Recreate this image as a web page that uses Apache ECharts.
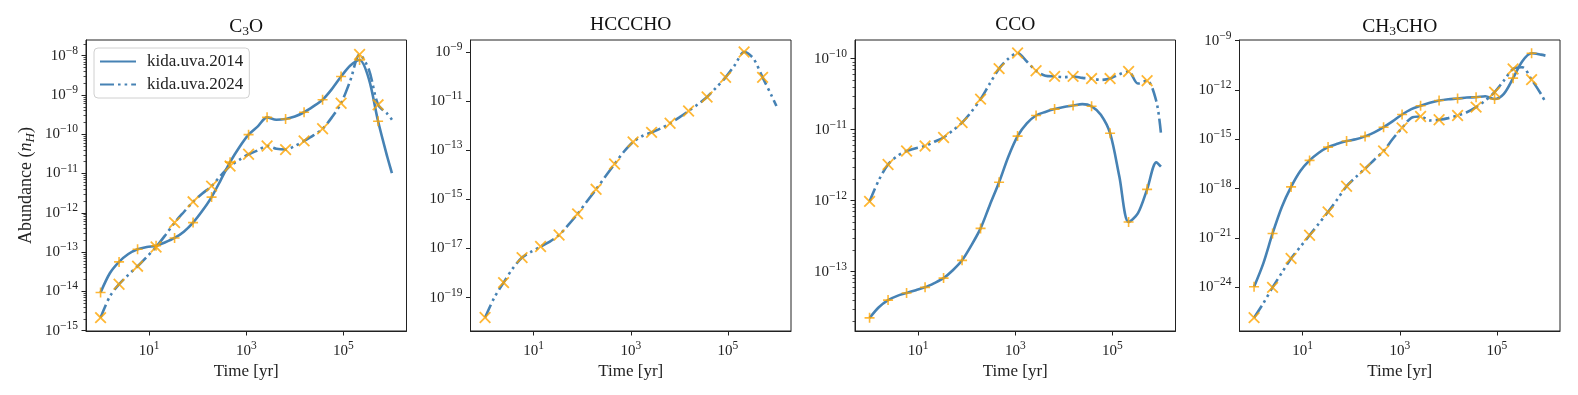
<!DOCTYPE html>
<html>
<head>
<meta charset="utf-8">
<script src="https://cdn.jsdelivr.net/npm/echarts@6/dist/echarts.min.js"></script>
<style>
html, body { margin: 0; padding: 0; background: #fff; }
#mybox { width: 1578px; height: 395px; }
</style>
</head>
<body>
<div id="mybox"></div>
<script>
// model time grid [yr], markers sit on every other point (up to index 30)
var timeYr = [1, 1.551, 2.404, 3.729, 5.781, 8.966, 13.90, 21.56, 33.42, 51.83, 80.35,
    124.6, 193.2, 299.6, 464.5, 720.3, 1117, 1732, 2685, 4164, 6457, 10010, 15520,
    24070, 37330, 57880, 89740, 139200, 215800, 334600, 518800, 804500, 1000000];

// log10 abundance (n_H), one value per time point
var c3o2014 = [-14.03, -13.54, -13.25, -13.05, -12.93, -12.87, -12.84, -12.75, -12.64, -12.48, -12.25,
    -11.95, -11.60, -11.16, -10.71, -10.33, -10.01, -9.80, -9.57, -9.63, -9.61, -9.55, -9.44,
    -9.29, -9.12, -8.85, -8.53, -8.25, -8.11, -8.59, -9.67, -10.58, -10.99];
var c3o2024 = [-14.67, -14.13, -13.82, -13.58, -13.36, -13.12, -12.87, -12.57, -12.25, -11.98, -11.72,
    -11.51, -11.32, -11.05, -10.81, -10.65, -10.51, -10.41, -10.30, -10.37, -10.39, -10.30, -10.17,
    -10.03, -9.86, -9.57, -9.21, -8.63, -7.97, -8.35, -9.25, -9.48, -9.63];
var hcccho2024 = [-19.81, -19.00, -18.39, -17.81, -17.37, -17.13, -16.92, -16.72, -16.45, -16.04, -15.59,
    -15.09, -14.59, -14.07, -13.56, -13.06, -12.66, -12.42, -12.27, -12.11, -11.90, -11.66, -11.40,
    -11.13, -10.83, -10.44, -10.03, -9.53, -9.00, -9.26, -10.03, -10.80, -11.20];
var cco2014 = [-13.65, -13.50, -13.40, -13.34, -13.30, -13.26, -13.22, -13.16, -13.09, -12.98, -12.84,
    -12.63, -12.39, -12.06, -11.74, -11.38, -11.09, -10.91, -10.80, -10.75, -10.71, -10.68, -10.66,
    -10.64, -10.67, -10.79, -11.05, -11.66, -12.30, -12.18, -11.84, -11.46, -11.52];
var cco2024 = [-12.01, -11.71, -11.49, -11.37, -11.30, -11.26, -11.23, -11.17, -11.11, -11.01, -10.90,
    -10.75, -10.57, -10.35, -10.14, -10.00, -9.92, -10.04, -10.17, -10.24, -10.25, -10.26, -10.25,
    -10.27, -10.28, -10.30, -10.28, -10.22, -10.18, -10.35, -10.31, -10.60, -11.05];
var ch3cho2014 = [-23.96, -22.54, -20.72, -19.11, -17.89, -16.92, -16.28, -15.81, -15.47, -15.27, -15.10,
    -15.00, -14.82, -14.58, -14.26, -13.89, -13.49, -13.16, -12.96, -12.78, -12.64, -12.56, -12.52,
    -12.46, -12.44, -12.38, -12.55, -12.23, -11.28, -10.25, -9.77, -9.85, -9.91];
var ch3cho2024 = [-25.84, -24.97, -24.00, -23.11, -22.24, -21.53, -20.83, -20.12, -19.41, -18.64, -17.85,
    -17.29, -16.78, -16.24, -15.71, -14.96, -14.30, -13.69, -13.61, -13.85, -13.81, -13.71, -13.55,
    -13.35, -13.04, -12.64, -12.13, -11.43, -10.72, -10.62, -11.37, -12.23, -12.74];

// tick exponents
var xTicks = [1, 3, 5];
var yTicksC3O = [-15, -14, -13, -12, -11, -10, -9, -8];
var yTicksHCCCHO = [-19, -17, -15, -13, -11, -9];
var yTicksCCO = [-13, -12, -11, -10];
var yTicksCH3CHO = [-24, -21, -18, -15, -12, -9];

var FONT = '"Liberation Serif", "Times New Roman", serif';
var INK = '#222';
var BLUE = '#4682b4';
var ORANGE = '#ffa500';
var PLUS = 'path://M8.4,0 H11.6 V8.4 H20 V11.6 H11.6 V20 H8.4 V11.6 H0 V8.4 H8.4 Z';
var CROSS = 'path://M8.8,0 H11.2 V8.8 H20 V11.2 H11.2 V20 H8.8 V11.2 H0 V8.8 H8.8 Z';

var gridLefts = [86, 470.5, 855, 1239.5];
var gridW = 320.5, gridTop = 40, gridH = 291;

var panels = [
    { title: 'C{sub|3}O', yMin: -15.01, yMax: -7.60, yTicks: yTicksC3O, minor: true,
      lines: [[c3o2014, 'kida.uva.2014'], [c3o2024, 'kida.uva.2024']] },
    { title: 'HCCCHO', yMin: -20.36, yMax: -8.51, yTicks: yTicksHCCCHO, minor: false,
      lines: [[hcccho2024, 'kida.uva.2024']] },
    { title: 'CCO', yMin: -13.835, yMax: -9.737, yTicks: yTicksCCO, minor: true,
      lines: [[cco2014, 'kida.uva.2014'], [cco2024, 'kida.uva.2024']] },
    { title: 'CH{sub|3}CHO', yMin: -26.65, yMax: -8.96, yTicks: yTicksCH3CHO, minor: false,
      lines: [[ch3cho2014, 'kida.uva.2014'], [ch3cho2024, 'kida.uva.2024']] }
];

function pow10(v) {
    var e = Math.round(v);
    return '{b|10}{s|' + (e < 0 ? '\u2212' : '') + Math.abs(e) + '}';
}
var tickRich = {
    b: { fontFamily: FONT, fontSize: 15, color: INK },
    s: { fontFamily: FONT, fontSize: 11.5, color: INK, padding: [0, 0, 10, 0] }
};

function minorTicks(lo, hi) {
    var out = [];
    for (var n = Math.floor(lo); n <= Math.ceil(hi); n++) {
        for (var k = 2; k <= 9; k++) {
            var v = n + Math.log10(k);
            if (v > lo && v < hi) out.push(v);
        }
    }
    return out;
}

var grids = [], xAxes = [], yAxes = [], titles = [], series = [];

panels.forEach(function (p, i) {
    grids.push({
        left: gridLefts[i], top: gridTop, width: gridW, height: gridH,
        show: true, borderColor: INK, borderWidth: 1,
        containLabel: false, outerBoundsMode: 'none'
    });
    titles.push({
        text: p.title, left: gridLefts[i] + gridW / 2, top: 15, textAlign: 'center', padding: 0,
        textStyle: {
            fontFamily: FONT, fontSize: 19.5, fontWeight: 'normal', color: '#111',
            rich: { sub: { fontFamily: FONT, fontSize: 13.5, color: '#111', padding: [9, 0, 0, 0] } }
        }
    });
    xAxes.push({
        type: 'value', gridIndex: i, min: -0.3, max: 6.3,
        name: 'Time [yr]', nameLocation: 'middle', nameGap: 31,
        nameTextStyle: { fontFamily: FONT, fontSize: 17, color: INK },
        axisLine: { show: true, onZero: false, lineStyle: { color: INK, width: 1 } },
        axisTick: { show: true, length: 4.5, customValues: xTicks, lineStyle: { color: INK } },
        axisLabel: { customValues: xTicks, formatter: pow10, margin: 9, rich: tickRich },
        splitLine: { show: false }
    });
    var yMain = yAxes.length;
    var yAx = {
        type: 'value', gridIndex: i, position: 'left', min: p.yMin, max: p.yMax,
        axisLine: { show: true, onZero: false, lineStyle: { color: INK, width: 1 } },
        axisTick: { show: true, length: 4.5, customValues: p.yTicks, lineStyle: { color: INK } },
        axisLabel: { customValues: p.yTicks, formatter: pow10, margin: 8, rich: tickRich },
        splitLine: { show: false }
    };
    if (i === 0) {
        yAx.name = 'Abundance ({i|n}{is|H})';
        yAx.nameLocation = 'middle';
        yAx.nameGap = 49;
        yAx.nameTextStyle = {
            fontFamily: FONT, fontSize: 18, color: INK,
            rich: {
                i: { fontFamily: FONT, fontSize: 18, fontStyle: 'italic', color: INK },
                is: { fontFamily: FONT, fontSize: 13, fontStyle: 'italic', color: INK, padding: [8, 0, 0, 0] }
            }
        };
    }
    yAxes.push(yAx);
    if (p.minor) {
        // minor log ticks drawn by a second axis parked on the left border
        yAxes.push({
            type: 'value', gridIndex: i, position: 'right', offset: -gridW,
            min: p.yMin, max: p.yMax,
            axisLine: { show: false, onZero: false },
            axisTick: { show: true, inside: true, length: 2.5,
                customValues: minorTicks(p.yMin, p.yMax), lineStyle: { color: INK, width: 0.8 } },
            axisLabel: { show: false },
            splitLine: { show: false }
        });
    }
    p.lines.forEach(function (ln) {
        var vals = ln[0], name = ln[1];
        var dashed = name === 'kida.uva.2024';
        var pts = vals.map(function (v, j) { return [Math.log10(timeYr[j]), v]; });
        series.push({
            type: 'line', name: name, xAxisIndex: i, yAxisIndex: yMain,
            data: pts, symbol: 'none', showSymbol: false, smooth: 0.3,
            color: BLUE,
            itemStyle: { color: BLUE, opacity: 0 },
            lineStyle: { color: BLUE, width: 2.6, type: dashed ? [14, 4, 2.6, 4, 2.6, 4] : 'solid' },
            z: 2, silent: true
        });
        series.push({
            type: 'scatter', name: name + ' marks', xAxisIndex: i, yAxisIndex: yMain,
            data: pts.filter(function (pt, j) { return j % 2 === 0 && j <= 30; }),
            symbol: dashed ? CROSS : PLUS, symbolSize: dashed ? 15 : 10,
            symbolRotate: dashed ? 45 : 0,
            itemStyle: { color: ORANGE }, z: 3, silent: true
        });
    });
});

var mycharts = echarts.init(document.getElementById('mybox'), null, { renderer: 'canvas' });
mycharts.setOption({
    animation: false,
    backgroundColor: '#fff',
    title: titles,
    legend: {
        data: ['kida.uva.2014', 'kida.uva.2024'],
        orient: 'vertical', left: 94, top: 48,
        padding: [5, 6, 5, 5], itemGap: 6, itemWidth: 36, itemHeight: 12,
        borderColor: '#d0d0d0', borderWidth: 1, borderRadius: 4,
        backgroundColor: 'rgba(255,255,255,0.8)',
        selectedMode: false,
        itemStyle: { opacity: 0 },
        textStyle: { fontFamily: FONT, fontSize: 17, color: INK, padding: [0, 0, 0, 6] }
    },
    grid: grids,
    xAxis: xAxes,
    yAxis: yAxes,
    series: series
});
</script>
</body>
</html>
